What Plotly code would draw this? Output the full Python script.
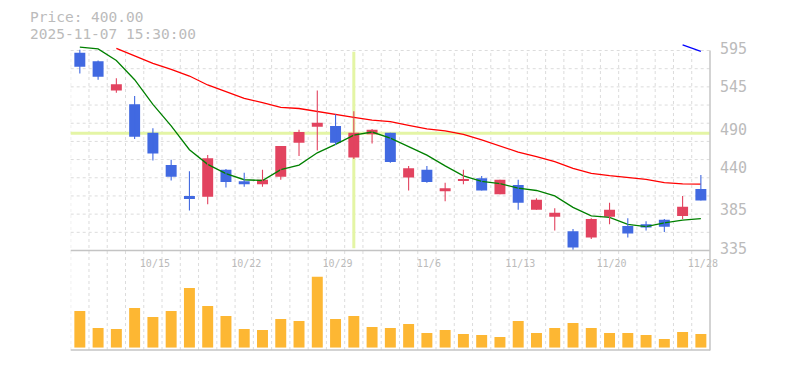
import plotly.graph_objects as go

# ---------------- data ----------------
dates = ["10/8", "10/9", "10/10", "10/14", "10/15", "10/16", "10/17", "10/20", "10/21", "10/22",
         "10/23", "10/24", "10/27", "10/28", "10/29", "10/30", "10/31", "11/4", "11/5", "11/6",
         "11/7", "11/10", "11/11", "11/12", "11/13", "11/14", "11/17", "11/18", "11/19", "11/20",
         "11/21", "11/25", "11/26", "11/27", "11/28"]

open_ = [592, 581, 543, 525, 488, 446, 406, 405, 440, 425, 421, 431, 475, 496, 497, 456, 486, 488, 430, 440,
         412, 426, 429, 408, 420, 388, 379, 360, 352, 379, 367, 369, 375, 380, 415]
high = [596, 582, 559, 536, 494, 453, 438, 459, 441, 436, 440, 471, 492, 543, 512, 516, 493, 488, 445, 445,
        423, 440, 432, 427, 427, 403, 390, 363, 377, 397, 377, 373, 376, 406, 433]
low = [565, 557, 540, 480, 452, 426, 387, 395, 417, 418, 418, 427, 458, 465, 472, 454, 474, 449, 413, 423,
       399, 421, 413, 408, 388, 388, 361, 336, 350, 369, 352, 361, 359, 376, 400]
close = [574, 561, 551, 483, 461, 431, 402, 455, 424, 421, 427, 471, 489, 501, 475, 488, 492, 450, 442, 424,
         416, 428, 413, 427, 397, 401, 384, 339, 376, 388, 357, 365, 366, 392, 400]

volume = [367, 197, 187, 397, 307, 367, 597, 417, 317, 187, 177, 287, 267, 710, 287, 317, 207, 197, 237, 147,
          177, 137, 127, 107, 267, 147, 197, 247, 197, 147, 147, 127, 87, 157, 137]

ma5 = [599.5, 597, 582, 557, 525, 497, 466, 447, 435, 427, 426, 440, 446, 462, 473, 485, 489, 481, 470, 459,
       445, 432, 425, 422, 416, 413, 406, 391, 380, 378, 369, 366, 371, 374.5, 376.5]
ma25 = [None, None, 597.8, 587.8, 578.3, 570.5, 561.8, 550.2, 541.5, 532.8, 527.2, 521.1, 519.6, 515.5, 511.6,
        508.1, 504.6, 502.5, 497.7, 493, 490.4, 486, 478.7, 470.5, 463, 457, 450.5, 441.8, 435.3, 432.3,
        429.7, 427.5, 423.2, 421.5, 421.3]
ma75 = [None] * 33 + [602.2, 594]

price_ticks = [595, 545, 490, 440, 385, 335]
date_tick_idx = [4, 9, 14, 19, 24, 29, 34]

cursor_index = 15
cursor_price = 487.4
info_price = "Price: 400.00"
info_time = "2025-11-07 15:30:00"

# ---------------- styling ----------------
W, H = 785, 370
OFF = 8  # page margin around the plot div
BLUE = "#4169e1"
RED = "#e2435f"
VOL = "#fdb733"
TXT = "#bbbbbb"
GRID = "#dcdcdc"
AXL = "#c4c4c4"
FONT = "DejaVu Sans Mono"

def px(p):  # screen column -> paper fraction
    return (p - OFF) / W

def py(p):  # screen row -> paper fraction
    return 1 - (p - OFF) / H

n = len(dates)
idx = list(range(n))

fig = go.Figure()

# volume
fig.add_trace(go.Bar(x=idx, y=volume, width=0.6, marker=dict(color=VOL, line=dict(width=0)),
                     xaxis="x2", yaxis="y2", hoverinfo="skip"))

# moving averages
fig.add_trace(go.Scatter(x=idx, y=ma25, mode="lines", line=dict(color="#ff0000", width=1.3), hoverinfo="skip"))
fig.add_trace(go.Scatter(x=idx, y=ma5, mode="lines", line=dict(color="#008000", width=1.3), hoverinfo="skip"))
fig.add_trace(go.Scatter(x=idx, y=ma75, mode="lines", line=dict(color="#0000ff", width=1.3), hoverinfo="skip"))

# candles
for up, col in ((True, RED), (False, BLUE)):
    sel = [i for i in idx if (close[i] >= open_[i]) == up]
    wx, wy = [], []
    for i in sel:
        wx += [i, i, None]
        wy += [low[i], high[i], None]
    fig.add_trace(go.Scatter(x=wx, y=wy, mode="lines", line=dict(color=col, width=1.1), hoverinfo="skip"))
    fig.add_trace(go.Bar(x=sel, y=[abs(close[i] - open_[i]) for i in sel],
                         base=[min(open_[i], close[i]) for i in sel], width=0.6,
                         marker=dict(color=col, line=dict(width=0)), hoverinfo="skip"))

shapes = []
# vertical dashed grid (cell boundaries)
for k in range(n):
    shapes.append(dict(type="line", xref="x", yref="paper", x0=k - 0.5, x1=k - 0.5,
                       y0=py(350), y1=py(50.5), line=dict(color=GRID, width=1, dash="3px,3px"),
                       layer="below"))
# horizontal dashed grid in price panel
for k in range(1, 12):
    yv = 335 + k * 260 / 11
    shapes.append(dict(type="line", xref="x domain", yref="y", x0=0, x1=1, y0=yv, y1=yv,
                       line=dict(color=GRID, width=1, dash="3px,3px"), layer="below"))
# crosshair
shapes.append(dict(type="line", xref="x", yref="paper", x0=cursor_index, x1=cursor_index,
                   y0=py(248.3), y1=py(51.7), line=dict(color="#e4f5a5", width=3), layer="below"))
shapes.append(dict(type="line", xref="x domain", yref="y", x0=0, x1=1, y0=cursor_price, y1=cursor_price,
                   line=dict(color="#e4f5a5", width=3), layer="below"))
# solid frame lines
shapes.append(dict(type="line", xref="x domain", yref="paper", x0=0, x1=1, y0=py(250.6), y1=py(250.6),
                   line=dict(color=AXL, width=1.5)))
shapes.append(dict(type="line", xref="x domain", yref="paper", x0=0, x1=1, y0=py(350), y1=py(350),
                   line=dict(color=AXL, width=1.5)))
shapes.append(dict(type="line", xref="x domain", yref="paper", x0=1, x1=1, y0=py(350.5), y1=py(50.5),
                   line=dict(color=AXL, width=1.5)))

annotations = [
    dict(text=info_price, xref="paper", yref="paper", x=px(28), y=py(17), xanchor="left",
         yanchor="middle", showarrow=False, font=dict(family=FONT, size=14.5, color=TXT)),
    dict(text=info_time, xref="paper", yref="paper", x=px(28), y=py(34), xanchor="left",
         yanchor="middle", showarrow=False, font=dict(family=FONT, size=14.5, color=TXT)),
]

fig.update_layout(
    width=W, height=H, margin=dict(l=0, r=0, t=0, b=0, pad=0, autoexpand=False),
    paper_bgcolor="white", plot_bgcolor="white", showlegend=False,
    barmode="overlay", shapes=shapes, annotations=annotations,
    xaxis=dict(domain=[px(70.7), px(710)], range=[-0.5, n - 0.5], anchor="y", showgrid=False,
               zeroline=False, showline=False, automargin=False, tickvals=date_tick_idx,
               ticktext=[dates[i] for i in date_tick_idx],
               ticks="outside", ticklen=3, tickcolor="rgba(0,0,0,0)", ticklabelshift=2,
               tickfont=dict(family=FONT, size=10, color=TXT)),
    yaxis=dict(domain=[py(250.5), py(30)], range=[335, 335 + 220.5 * 1.3], side="right", anchor="x",
               showgrid=False, zeroline=False, showline=False, automargin=False, tickvals=price_ticks,
               ticktext=[str(v) for v in price_ticks], ticks="outside", ticklen=6,
               tickcolor="rgba(0,0,0,0)", ticklabelshift=-2,
               tickfont=dict(family=FONT, size=15, color=TXT)),
    xaxis2=dict(domain=[px(70.7), px(710)], range=[-0.5, n - 0.5], anchor="y2", showgrid=False,
                zeroline=False, showline=False, showticklabels=False, ticks="", automargin=False),
    yaxis2=dict(domain=[py(347.7), py(252)], range=[0, 957], anchor="x2", showgrid=False,
                zeroline=False, showline=False, showticklabels=False, ticks="", automargin=False),
)

fig.write_html("out.html")
